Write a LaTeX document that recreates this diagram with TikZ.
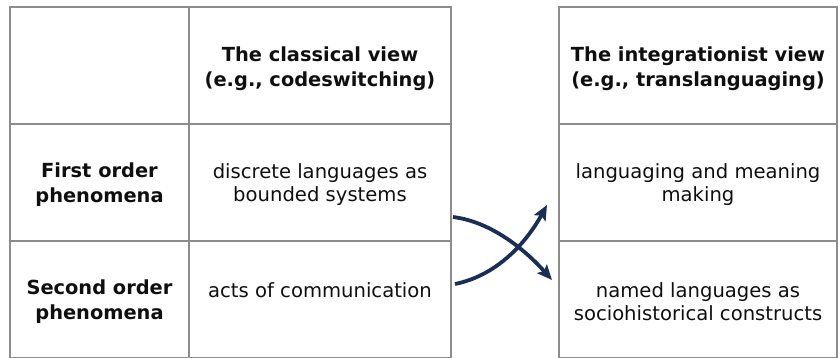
\documentclass[tikz,border=0pt]{standalone}
\usepackage{fontspec}
\setmainfont{DejaVu Sans}
\usetikzlibrary{arrows.meta,calc}
\definecolor{gridgray}{RGB}{140,140,140}
\definecolor{navy}{RGB}{27,46,86}
\definecolor{ink}{RGB}{15,15,15}
\begin{document}
\begin{tikzpicture}[x=1pt,y=-1pt,
  cell/.style={draw=gridgray, line width=1.2pt, inner sep=0pt, outer sep=0pt},
  txt/.style={inner sep=0pt, text=ink, align=center, font=\fontsize{19.6}{23.5}\selectfont},
  head/.style={txt, font=\fontsize{19.4}{24.5}\selectfont\bfseries},
  flow/.style={draw=navy, line width=3.8pt,
    -{Stealth[length=15pt,width=13pt,inset=3pt]}}]
\useasboundingbox (0,0) rectangle (840,358);

% classical table: cells
\node[cell, minimum width=179, minimum height=117] (c11) at (99.5,65.5) {};
\node[cell, minimum width=262, minimum height=117] (c12) at (320,65.5) {};
\node[cell, minimum width=179, minimum height=117] (c21) at (99.5,182.5) {};
\node[cell, minimum width=262, minimum height=117] (c22) at (320,182.5) {};
\node[cell, minimum width=179, minimum height=116] (c31) at (99.5,299.5) {};
\node[cell, minimum width=262, minimum height=116] (c32) at (320,299.5) {};

% integrationist table: cells
\node[cell, minimum width=278, minimum height=117] (i1) at (698,65.5) {};
\node[cell, minimum width=278, minimum height=117] (i2) at (698,182.5) {};
\node[cell, minimum width=278, minimum height=116] (i3) at (698,299.5) {};

% cell texts
\node[head] (t12) at ($(c12.center)+(0,3)$) {The classical view\\(e.g., codeswitching)};
\node[head] (t21) at ($(c21.center)+(0,2)$) {First order\\phenomena};
\node[txt]  (t22) at ($(c22.center)+(0,2)$) {discrete languages as\\bounded systems};
\node[head] (t31) at ($(c31.center)+(0,2)$) {Second order\\phenomena};
\node[txt]  (t32) at ($(c32.center)+(0,-9.5)$) {acts of communication};
\node[head] (ti1) at ($(i1.center)+(0,3)$) {The integrationist view\\(e.g., translanguaging)};
\node[txt]  (ti2) at ($(i2.center)+(0,2)$) {languaging and meaning\\making};
\node[txt]  (ti3) at ($(i3.center)+(0,2)$) {named languages as\\sociohistorical constructs};

% crossing arrows between the tables
\coordinate (s1) at ($(c22.east)+(2,34.5)$);
\coordinate (e1) at ($(i3.west)+(-7,-19.5)$);
\coordinate (s2) at ($(c32.east)+(4,-15.5)$);
\coordinate (e2) at ($(i2.west)+(-12,22.5)$);
\draw[flow] (s1) .. controls ($(s1)+(40,5)$) and ($(e1)+(-25,-28)$) .. (e1);
\draw[flow] (s2) .. controls ($(s2)+(40,-8)$) and ($(e2)+(-22,40)$) .. (e2);
\end{tikzpicture}
\end{document}
